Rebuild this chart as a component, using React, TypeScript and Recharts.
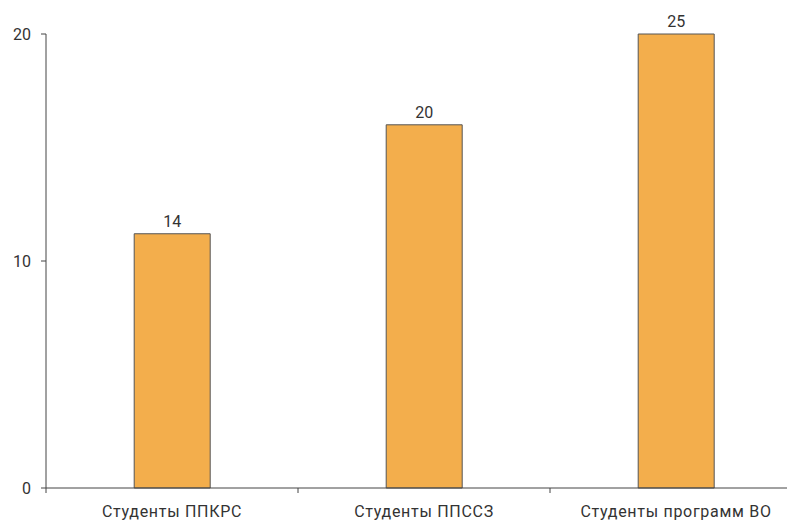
import React from "react";
import { BarChart, Bar, XAxis, YAxis, LabelList } from "recharts";

const categories = ["Студенты ППКРС", "Студенты ППССЗ", "Студенты программ ВО"];
const values = [14, 20, 25];
const yTickValues = [0, 12.5, 25];
const yTickLabels = ["0", "10", "20"];

const data = categories.map((name, i) => ({ name, value: values[i] }));

const FONT = "Roboto, 'Noto Sans', sans-serif";

const XTick = (props: any) => {
  const { x, y, payload } = props;
  const off = payload && payload.offset ? payload.offset : 0;
  return (
    <g>
      <line x1={x - off} x2={x - off} y1={y} y2={y + 5} stroke="#444" strokeWidth={1} />
      <text
        x={x}
        y={y + 29}
        textAnchor="middle"
        fontSize={16}
        fill="#333"
        fontFamily={FONT}
        letterSpacing={0.7}
      >
        {payload.value}
      </text>
    </g>
  );
};

export default function App() {
  return (
    <div style={{ width: 787, height: 512, overflow: "hidden" }}>
      <BarChart
        width={794}
        height={512}
        data={data}
        margin={{ top: 26, right: 0, bottom: 0, left: 0 }}
        barCategoryGap="35%"
      >
        <XAxis
          dataKey="name"
          tickLine={false}
          tickSize={0}
          tickMargin={0}
          axisLine={{ stroke: "#444" }}
          tick={<XTick />}
          height={32}
          interval={0}
        />
        <YAxis
          width={38}
          domain={[0, 25]}
          ticks={yTickValues}
          tickFormatter={(v: number) => yTickLabels[yTickValues.indexOf(v)]}
          axisLine={{ stroke: "#444" }}
          tickLine={{ stroke: "#444" }}
          tickSize={5}
          tickMargin={10}
          tick={{ fontSize: 16, fill: "#333", fontFamily: FONT }}
        />
        <Bar dataKey="value" fill="#F3AE4C" stroke="#555" strokeWidth={1} isAnimationActive={false}>
          <LabelList dataKey="value" position="top" offset={7} fontSize={16} fill="#333" fontFamily={FONT} />
        </Bar>
      </BarChart>
    </div>
  );
}
